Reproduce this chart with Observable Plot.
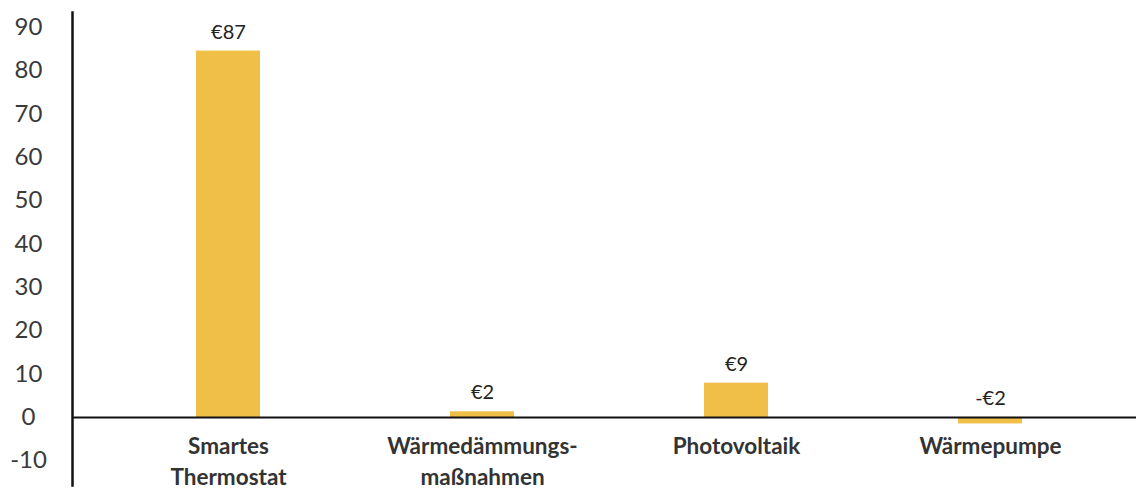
<!DOCTYPE html>
<html>
<head>
<meta charset="utf-8">
<script src="https://cdn.jsdelivr.net/npm/d3@7"></script>
<script src="https://cdn.jsdelivr.net/npm/@observablehq/plot@0.6"></script>
<style>
  html, body { margin: 0; padding: 0; background: #fff; }
  #chart svg { display: block; overflow: visible; }
</style>
</head>
<body>
<div id="chart"></div>
<script>
// Categories (x axis), with display labels (line breaks as in the original)
const categories = ["Smartes Thermostat", "Wärmedämmungsmaßnahmen", "Photovoltaik", "Wärmepumpe"];
const categoryLabels = ["Smartes\nThermostat", "Wärmedämmungs-\nmaßnahmen", "Photovoltaik", "Wärmepumpe"];
// Bar heights as drawn in the picture
const values = [84.5, 1.3, 7.9, -1.5];
// Value labels as printed above the bars
const valueLabels = ["€87", "€2", "€9", "-€2"];
// Y-axis ticks
const yTicks = [-10, 0, 10, 20, 30, 40, 50, 60, 70, 80, 90];

const data = categories.map((c, i) => ({
  cat: c,
  name: categoryLabels[i],
  value: values[i],
  label: valueLabels[i],
  labelY: Math.max(values[i], 0)
}));

const font = "Lato, 'Noto Sans', sans-serif";

const chart = Plot.plot({
  width: 1136,
  height: 493,
  marginLeft: 72,
  marginRight: 0,
  marginTop: 12,
  marginBottom: 8,
  style: { fontFamily: font, background: "#fff" },
  x: { domain: categories, paddingInner: 0.75, paddingOuter: 0.469, align: 0.519, axis: null },
  y: { domain: [-15.7, 93.4], axis: null },
  marks: [
    Plot.barY(data, { x: "cat", y: "value", fill: "#F0BF47" }),
    Plot.ruleY([0], { stroke: "#111", strokeWidth: 2 }),
    Plot.frame({ anchor: "left", stroke: "#111", strokeWidth: 2.5 }),
    Plot.axisY({
      ticks: yTicks,
      tickSize: 0,
      tickPadding: 44,
      textAnchor: "middle",
      tickFormat: d => String(d),
      fontSize: 24,
      fill: "#3a3a3a",
      label: null
    }),
    Plot.text(data, {
      x: "cat",
      y: "labelY",
      text: "label",
      lineAnchor: "bottom",
      dy: -12.5,
      fontSize: 20,
      fill: "#222"
    }),
    Plot.text(data, {
      x: "cat",
      text: "name",
      frameAnchor: "bottom",
      lineAnchor: "top",
      dy: -54,
      lineHeight: 1.4,
      fontSize: 22.5,
      fontWeight: 700,
      fill: "#333"
    })
  ]
});

document.getElementById("chart").appendChild(chart);
</script>
</body>
</html>
